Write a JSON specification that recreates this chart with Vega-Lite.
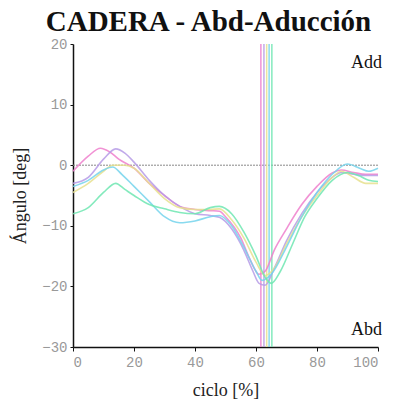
{
  "$schema": "https://vega.github.io/schema/vega-lite/v6.json",
  "autosize": "none",
  "width": 305,
  "height": 303,
  "padding": {"left": 73, "top": 44, "right": 20, "bottom": 63},
  "background": "white",
  "title": {"text": "CADERA - Abd-Aducción", "font": "Liberation Serif", "fontSize": 29, "fontWeight": "bold", "color": "#111", "anchor": "middle", "dx": -17, "offset": 0},
  "config": {"view": {"stroke": null}},
  "datasets": {
    "curves": [
      {"s":"P","x":0,"y":-1},{"s":"P","x":5,"y":1.5},{"s":"P","x":9,"y":2.8},{"s":"P","x":12,"y":2.2},{"s":"P","x":15,"y":1.0},{"s":"P","x":20,"y":-0.5},{"s":"P","x":25,"y":-3},{"s":"P","x":30,"y":-5},{"s":"P","x":35,"y":-6.8},{"s":"P","x":40,"y":-7.3},{"s":"P","x":45,"y":-7.5},{"s":"P","x":48,"y":-7.6},{"s":"P","x":50,"y":-8.5},{"s":"P","x":55,"y":-12},{"s":"P","x":58,"y":-15.5},{"s":"P","x":61,"y":-18},{"s":"P","x":63,"y":-17.5},{"s":"P","x":66,"y":-14},{"s":"P","x":70,"y":-10.5},{"s":"P","x":75,"y":-6.5},{"s":"P","x":80,"y":-3.5},{"s":"P","x":85,"y":-1.3},{"s":"P","x":88,"y":-0.8},{"s":"P","x":92,"y":-1.2},{"s":"P","x":96,"y":-1.5},{"s":"P","x":100,"y":-1.5},
      {"s":"V","x":0,"y":-3},{"s":"V","x":5,"y":-2},{"s":"V","x":10,"y":1.0},{"s":"V","x":14,"y":2.7},{"s":"V","x":17,"y":2.0},{"s":"V","x":20,"y":0.5},{"s":"V","x":25,"y":-2.5},{"s":"V","x":30,"y":-5},{"s":"V","x":35,"y":-6.8},{"s":"V","x":40,"y":-8},{"s":"V","x":45,"y":-8.3},{"s":"V","x":48,"y":-8.6},{"s":"V","x":52,"y":-10.5},{"s":"V","x":56,"y":-14},{"s":"V","x":59,"y":-17.5},{"s":"V","x":61,"y":-19.5},{"s":"V","x":63,"y":-19.8},{"s":"V","x":66,"y":-17},{"s":"V","x":70,"y":-12.5},{"s":"V","x":75,"y":-8},{"s":"V","x":80,"y":-4.5},{"s":"V","x":85,"y":-2},{"s":"V","x":88,"y":-1.2},{"s":"V","x":92,"y":-1.5},{"s":"V","x":96,"y":-1.7},{"s":"V","x":100,"y":-1.7},
      {"s":"Y","x":0,"y":-4.5},{"s":"Y","x":5,"y":-3},{"s":"Y","x":10,"y":-1},{"s":"Y","x":13,"y":0},{"s":"Y","x":17,"y":0},{"s":"Y","x":20,"y":-0.5},{"s":"Y","x":25,"y":-3},{"s":"Y","x":30,"y":-5.5},{"s":"Y","x":35,"y":-7},{"s":"Y","x":40,"y":-7.3},{"s":"Y","x":45,"y":-7.3},{"s":"Y","x":48,"y":-7.2},{"s":"Y","x":52,"y":-9},{"s":"Y","x":56,"y":-12},{"s":"Y","x":60,"y":-16},{"s":"Y","x":63,"y":-18.2},{"s":"Y","x":66,"y":-17},{"s":"Y","x":70,"y":-13},{"s":"Y","x":75,"y":-8.5},{"s":"Y","x":80,"y":-5},{"s":"Y","x":85,"y":-2},{"s":"Y","x":88,"y":-1},{"s":"Y","x":92,"y":-2},{"s":"Y","x":96,"y":-3},{"s":"Y","x":100,"y":-3},
      {"s":"C","x":0,"y":-3.5},{"s":"C","x":5,"y":-2.5},{"s":"C","x":10,"y":-0.8},{"s":"C","x":13,"y":-0.3},{"s":"C","x":16,"y":-1.5},{"s":"C","x":20,"y":-3.5},{"s":"C","x":25,"y":-6},{"s":"C","x":30,"y":-8.5},{"s":"C","x":35,"y":-9.5},{"s":"C","x":40,"y":-9.2},{"s":"C","x":45,"y":-8.5},{"s":"C","x":48,"y":-8.3},{"s":"C","x":52,"y":-10},{"s":"C","x":56,"y":-13.5},{"s":"C","x":60,"y":-17.5},{"s":"C","x":62,"y":-19},{"s":"C","x":65,"y":-18},{"s":"C","x":70,"y":-13.5},{"s":"C","x":75,"y":-8.5},{"s":"C","x":80,"y":-4.5},{"s":"C","x":85,"y":-1.5},{"s":"C","x":90,"y":0.2},{"s":"C","x":94,"y":-0.5},{"s":"C","x":97,"y":-1},{"s":"C","x":100,"y":-0.5},
      {"s":"G","x":0,"y":-8},{"s":"G","x":5,"y":-7},{"s":"G","x":10,"y":-4.5},{"s":"G","x":14,"y":-3},{"s":"G","x":17,"y":-4},{"s":"G","x":20,"y":-5},{"s":"G","x":25,"y":-6.5},{"s":"G","x":30,"y":-7.2},{"s":"G","x":35,"y":-7.8},{"s":"G","x":40,"y":-8},{"s":"G","x":45,"y":-7},{"s":"G","x":48,"y":-6.8},{"s":"G","x":52,"y":-8},{"s":"G","x":56,"y":-11},{"s":"G","x":60,"y":-15},{"s":"G","x":63,"y":-18.5},{"s":"G","x":65,"y":-19.5},{"s":"G","x":68,"y":-17.5},{"s":"G","x":72,"y":-13},{"s":"G","x":76,"y":-8.5},{"s":"G","x":80,"y":-5.5},{"s":"G","x":85,"y":-2.5},{"s":"G","x":90,"y":-1.2},{"s":"G","x":94,"y":-1.8},{"s":"G","x":97,"y":-2.5},{"s":"G","x":100,"y":-2.7}
    ],
    "vlines": [
      {"s":"P","x":61.6},{"s":"V","x":62.6},{"s":"Y","x":63.5},{"s":"C","x":64.3},{"s":"G","x":65.2}
    ],
    "labels": [
      {"t":"Add","x":100,"y":16.8},{"t":"Abd","x":100,"y":-27.2}
    ],
    "zero": [{"y":0}]
  },
  "layer": [
    {
      "data": {"name": "zero"},
      "mark": {"type": "rule", "color": "#888888", "strokeWidth": 1, "strokeDash": [2, 1]},
      "encoding": {"y": {"field": "y", "type": "quantitative", "scale": {"domain": [-30, 20]}}}
    },
    {
      "data": {"name": "vlines"},
      "mark": {"type": "rule", "strokeWidth": 1.5, "opacity": 0.85},
      "encoding": {
        "x": {"field": "x", "type": "quantitative", "scale": {"domain": [0, 100]}},
        "color": {"field": "s", "type": "nominal", "legend": null, "scale": {"domain": ["P","V","Y","C","G"], "range": ["#ee7fcc","#b69be6","#e6e08e","#74d4ec","#6fe6b2"]}}
      }
    },
    {
      "data": {"name": "curves"},
      "mark": {"type": "line", "interpolate": "monotone", "strokeWidth": 1.6, "opacity": 0.85},
      "encoding": {
        "x": {"field": "x", "type": "quantitative", "scale": {"domain": [0, 100], "nice": false},
          "axis": {"values": [0,20,40,60,80,100], "title": "ciclo [%]", "titleFont": "Liberation Serif", "titleFontSize": 18, "titleFontWeight": "normal", "titleColor": "#222", "titlePadding": 12, "labelFont": "Liberation Mono", "labelFontSize": 14, "labelColor": "#999", "labelPadding": 4, "domainColor": "#111", "domainWidth": 1.5, "tickColor": "#111", "tickSize": 4, "grid": false}},
        "y": {"field": "y", "type": "quantitative", "scale": {"domain": [-30, 20], "nice": false},
          "axis": {"values": [-30,-20,-10,0,10,20], "title": "Ángulo [deg]", "titleFont": "Liberation Serif", "titleFontSize": 18, "titleFontWeight": "normal", "titleColor": "#222", "titlePadding": 12, "labelFont": "Liberation Mono", "labelFontSize": 14, "labelColor": "#999", "labelPadding": 3, "domainColor": "#111", "domainWidth": 1.5, "tickColor": "#111", "tickSize": 3, "grid": false}},
        "color": {"field": "s", "type": "nominal", "legend": null, "scale": {"domain": ["P","V","Y","C","G"], "range": ["#e070c0","#9a8ee0","#e0dc8a","#6ccfee","#5fe2a8"]}},
        "detail": {"field": "s"}
      }
    },
    {
      "data": {"name": "labels"},
      "mark": {"type": "text", "font": "Liberation Serif", "fontSize": 18, "align": "right", "baseline": "middle", "dx": 4, "color": "#111"},
      "encoding": {
        "x": {"field": "x", "type": "quantitative"},
        "y": {"field": "y", "type": "quantitative"},
        "text": {"field": "t"}
      }
    }
  ]
}
